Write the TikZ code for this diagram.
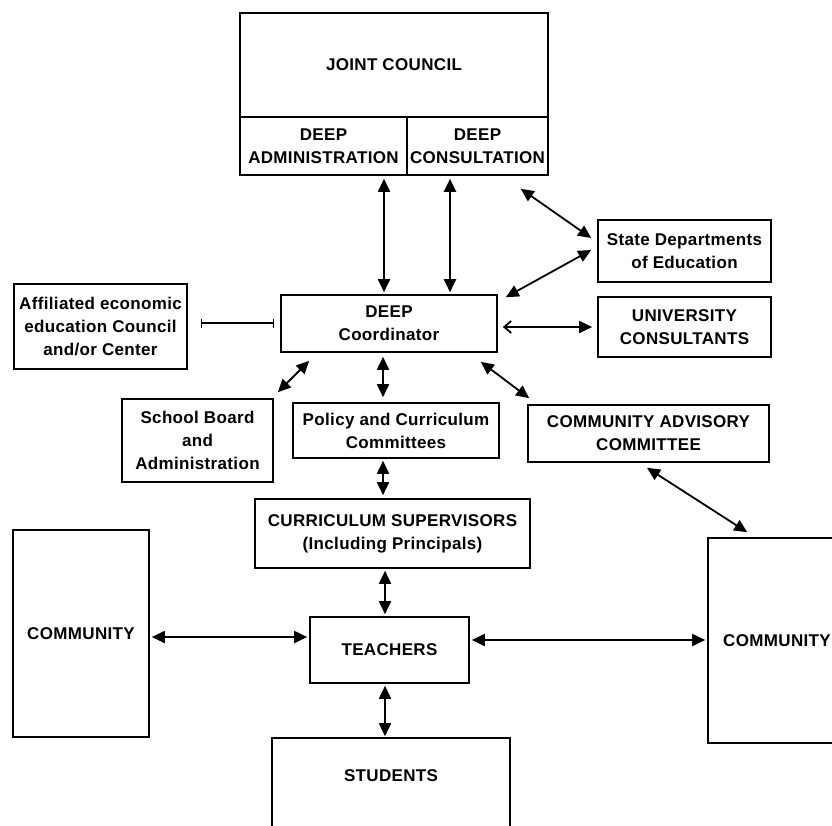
\documentclass[tikz,border=0pt]{standalone}
\usepackage{fontspec}
\setmainfont{Liberation Sans}[LetterSpace=2]
\usetikzlibrary{arrows.meta}
\begin{document}
\begin{tikzpicture}[x=1pt,y=-1pt,
  box/.style={draw, line width=1.6pt, align=center, inner sep=0pt,
    font=\fontsize{17}{23}\selectfont\bfseries},
  arr/.style={line width=1.8pt, {Triangle[length=13pt,width=12pt]}-{Triangle[length=13pt,width=12pt]}},
  thinarr/.style={line width=1.2pt, {Bar[width=9pt]}-{Bar[width=9pt]}},
  openarr/.style={line width=1.8pt, {Straight Barb[length=7pt,width=12pt]}-{Triangle[length=13pt,width=12pt]}},
]
\useasboundingbox (0,0) rectangle (832,825);
\fill[white] (0,0) rectangle (832,825);
% boxes
\node[box, minimum width=308pt, minimum height=104pt] (jc) at (394,65) {JOINT COUNCIL};
\node[box, minimum width=167pt, minimum height=58pt] (admin) at (323.5,146) {DEEP\\ADMINISTRATION};
\node[box, minimum width=141pt, minimum height=58pt] (cons) at (477.5,146) {DEEP\\CONSULTATION};
\node[box, minimum width=173pt, minimum height=62pt] (state) at (684.5,251) {State Departments\\of Education};
\node[box, minimum width=173pt, minimum height=60pt] (univ) at (684.5,327) {UNIVERSITY\\CONSULTANTS};
\node[box, minimum width=216pt, minimum height=57pt] (coord) at (389,323.5) {DEEP\\Coordinator};
\node[box, minimum width=173pt, minimum height=85pt] (affil) at (100.5,326.5) {Affiliated economic\\education Council\\and/or Center};
\node[box, minimum width=151pt, minimum height=83pt] (school) at (197.5,440.5) {School Board\\and\\Administration};
\node[box, minimum width=206pt, minimum height=55pt] (policy) at (396,430.5) {Policy and Curriculum\\Committees};
\node[box, minimum width=241pt, minimum height=57pt] (cadv) at (648.5,433.5) {COMMUNITY ADVISORY\\COMMITTEE};
\node[box, minimum width=275pt, minimum height=69pt] (curr) at (392.5,533.5) {CURRICULUM SUPERVISORS\\(Including Principals)};
\node[box, minimum width=136pt, minimum height=207pt] (lcomm) at (81,633.5) {COMMUNITY};
\node[box, minimum width=138pt, minimum height=205pt] (rcomm) at (777,640.5) {COMMUNITY};
\node[box, minimum width=159pt, minimum height=66pt] (teach) at (389.5,650) {TEACHERS};
\node[box, draw=none, minimum width=236pt, minimum height=74pt] (students) at (391,776) {STUDENTS};
\draw[line width=1.6pt] ([yshift=-80pt]students.south west) -- (students.north west)
  -- (students.north east) -- ([yshift=-80pt]students.south east);
% connectors
\draw[arr] ([xshift=60.5pt,yshift=-3pt]admin.south) -- ([xshift=-5pt,yshift=2pt]coord.north);
\draw[arr, line width=2.2pt] ([xshift=-27.5pt,yshift=-3pt]cons.south) -- ([xshift=61pt,yshift=2pt]coord.north);
\draw[arr] ([xshift=-28pt,yshift=-13pt]cons.south east) -- ([xshift=-6pt,yshift=13pt]state.west);
\draw[arr] ([xshift=8pt,yshift=-3pt]coord.north east) -- ([xshift=-6pt,yshift=1pt]state.west);
\draw[thinarr] ([xshift=13pt,yshift=3.5pt]affil.east) -- ([xshift=-6pt,yshift=0.5pt]coord.west);
\draw[openarr] ([xshift=5pt,yshift=-3.5pt]coord.east) -- ([xshift=-5pt]univ.west);
\draw[arr] ([xshift=29pt,yshift=-8pt]coord.south west) -- ([xshift=4pt,yshift=6pt]school.north east);
\draw[arr] ([xshift=-6pt,yshift=-4pt]coord.south) -- ([xshift=-13pt,yshift=5pt]policy.north);
\draw[arr] ([xshift=-17pt,yshift=-9pt]coord.south east) -- ([xshift=2pt,yshift=6pt]cadv.north west);
\draw[arr] ([xshift=-13pt,yshift=-2pt]policy.south) -- ([xshift=-9.5pt,yshift=3pt]curr.north);
\draw[arr] ([xshift=-1.5pt,yshift=-5pt]cadv.south) -- ([xshift=40pt,yshift=5pt]rcomm.north west);
\draw[arr] ([xshift=-7.5pt,yshift=-2pt]curr.south) -- ([xshift=-4.5pt,yshift=2pt]teach.north);
\draw[arr] ([xshift=2pt,yshift=-3.5pt]lcomm.east) -- ([xshift=-2pt,yshift=13pt]teach.west);
\draw[arr] ([xshift=2pt,yshift=10pt]teach.east) -- ([xshift=-2pt,yshift=0.5pt]rcomm.west);
\draw[arr] ([xshift=-4.5pt,yshift=-2pt]teach.south) -- ([xshift=-6pt,yshift=2pt]students.north);
\end{tikzpicture}
\end{document}
